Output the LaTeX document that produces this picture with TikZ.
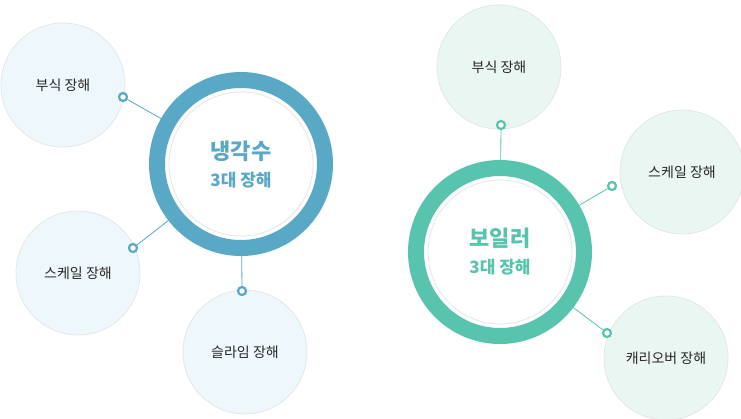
\documentclass[tikz,border=0pt]{standalone}
\usepackage{fontspec}
\newfontfamily\cjk{Noto Sans CJK KR}
\definecolor{bl}{HTML}{58A8C6}
\definecolor{gr}{HTML}{58C4AE}
\definecolor{bfill}{HTML}{EEF8FC}
\definecolor{gfill}{HTML}{EAF6F2}
\definecolor{edge}{HTML}{E2E6E8}
\tikzset{
 small/.style={circle,minimum size=124pt,inner sep=0pt,draw=edge,line width=0.8pt,font=\cjk\fontsize{14}{16}\selectfont,text=black!85},
 ring/.style={circle,minimum size=168pt,inner sep=0pt,line width=16pt,fill=white,align=center},
 dot/.style={circle,minimum size=8pt,inner sep=0pt,fill=white,line width=2.2pt},
 big/.style={font=\cjk\bfseries\fontsize{22}{24}\selectfont},
 sub/.style={font=\cjk\bfseries\fontsize{17}{19}\selectfont},
}
\begin{document}
\begin{tikzpicture}[x=1pt,y=-1pt]
\useasboundingbox (0,0) rectangle (741,418);
% left
\node[small,fill=bfill] (l1) at (63,85) {부식 장해};
\node[small,fill=bfill] (l2) at (78,273) {스케일 장해};
\node[small,fill=bfill] (l3) at (245,352) {슬라임 장해};
\node[ring,draw=bl] (L) at (241,164) {};
\draw[edge,line width=0.8pt] (L.center) circle (72pt);
\node[big,text=bl] (Lt) at (241,151) {냉각수};
\node[sub,text=bl] (Ls) at (241,180) {3대 장해};
\node[dot,draw=bl] (d1) at (123,97) {};
\node[dot,draw=bl] (d2) at (133,248) {};
\node[dot,draw=bl] (d3) at (242,291) {};
\draw[bl,line width=0.8pt] (d1) -- (L);
\draw[bl,line width=0.8pt] (d2) -- (L);
\draw[bl,line width=0.8pt] (d3) -- (L);
% right
\node[small,fill=gfill] (r1) at (499,67) {부식 장해};
\node[small,fill=gfill] (r2) at (682,172) {스케일 장해};
\node[small,fill=gfill] (r3) at (666,358) {캐리오버 장해};
\node[ring,draw=gr] (R) at (500,252) {};
\draw[edge,line width=0.8pt] (R.center) circle (72pt);
\node[big,text=gr] (Rt) at (500,238) {보일러};
\node[sub,text=gr] (Rs) at (500,267) {3대 장해};
\node[dot,draw=gr] (e1) at (501,125) {};
\node[dot,draw=gr] (e2) at (612,186) {};
\node[dot,draw=gr] (e3) at (607,333) {};
\draw[gr,line width=0.8pt] (e1) -- (R);
\draw[gr,line width=0.8pt] (e2) -- (R);
\draw[gr,line width=0.8pt] (e3) -- (R);
\end{tikzpicture}
\end{document}
